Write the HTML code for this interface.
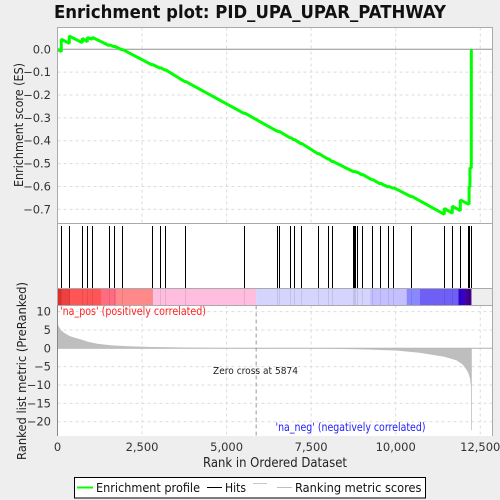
<!DOCTYPE html>
<html>
<head>
<meta charset="utf-8">
<style>
html,body{margin:0;padding:0;background:#eeeeee;width:500px;height:500px;overflow:hidden}
svg{display:block;font-family:"DejaVu Sans","Liberation Sans",sans-serif}
</style>
</head>
<body>
<svg id="chart" xmlns="http://www.w3.org/2000/svg" width="500" height="500" viewBox="0 0 500 500">
<rect x="0" y="0" width="500" height="500" fill="#eeeeee"/>
<text x="54" y="18" font-size="18" font-weight="bold" fill="#111" textLength="392" lengthAdjust="spacingAndGlyphs">Enrichment plot: PID_UPA_UPAR_PATHWAY</text>
<rect x="57.5" y="27.5" width="435" height="196" fill="#fff"/>
<rect x="57.5" y="223.5" width="435" height="65" fill="#fff"/>
<rect x="57.5" y="305.5" width="435" height="130.5" fill="#fff"/>
<g id="grid"></g>
<g id="metric"></g>
<g id="band"></g>
<g id="hits"></g>
<g id="profile"></g>
<g id="frames" fill="none" stroke="#aaaaaa" stroke-width="1">
<rect x="57.5" y="27.5" width="435" height="196"/>
<rect x="57.5" y="288.5" width="435" height="17"/>
<line x1="492.5" y1="223.5" x2="492.5" y2="288.5"/>
<line x1="492.5" y1="305.5" x2="492.5" y2="436"/>
<line x1="57.5" y1="223.5" x2="57.5" y2="288.5"/>
<line x1="57.5" y1="305.5" x2="57.5" y2="436" stroke="#888"/>
</g>
<g id="labels" font-size="11.5" fill="#333"></g>
<text transform="translate(23,125) rotate(-90)" text-anchor="middle" font-size="12.5" fill="#222" textLength="124" lengthAdjust="spacingAndGlyphs">Enrichment score (ES)</text>
<text transform="translate(26,371) rotate(-90)" text-anchor="middle" font-size="12.5" fill="#222" textLength="178" lengthAdjust="spacingAndGlyphs">Ranked list metric (PreRanked)</text>
<text x="275" y="467" text-anchor="middle" font-size="13" fill="#222" textLength="144" lengthAdjust="spacingAndGlyphs">Rank in Ordered Dataset</text>
<text x="60" y="315" font-size="11.5" fill="#ff2020" textLength="146" lengthAdjust="spacingAndGlyphs">'na_pos' (positively correlated)</text>
<text x="275.5" y="431" font-size="11.5" fill="#2020ff" textLength="150" lengthAdjust="spacingAndGlyphs">'na_neg' (negatively correlated)</text>
<text x="213" y="374" font-size="10" fill="#222" textLength="85" lengthAdjust="spacingAndGlyphs">Zero cross at 5874</text>
<g>
<rect x="74.5" y="477.5" width="351" height="20.5" fill="#fff" stroke="#000" stroke-width="1"/>
<line x1="77" y1="487.5" x2="93" y2="487.5" stroke="#00ff00" stroke-width="2"/>
<text x="96" y="492" font-size="12" fill="#111" textLength="104" lengthAdjust="spacingAndGlyphs">Enrichment profile</text>
<line x1="207" y1="487.5" x2="222" y2="487.5" stroke="#000" stroke-width="1"/>
<text x="225" y="492" font-size="12" fill="#111" textLength="21" lengthAdjust="spacingAndGlyphs">Hits</text>
<line x1="253" y1="483.5" x2="267" y2="483.5" stroke="#c8c8c8" stroke-width="1"/>
<line x1="277" y1="487.5" x2="292" y2="487.5" stroke="#bebebe" stroke-width="1"/>
<text x="295" y="492" font-size="12" fill="#111" textLength="126.5" lengthAdjust="spacingAndGlyphs">Ranking metric scores</text>
</g>
</svg>
<script>
const hitRanks = [112,349,733,881,1029,1532,1680,1916,2803,3040,3188,3779,5523,6499,6558,6883,7002,7209,7711,8007,8125,8746,8776,8805,8865,9012,9308,9545,9781,9929,10461,11437,11673,11910,12147,12170,12195,12235,12236];
const esBeforeHit = [-0.010,0.026,0.029,0.033,0.044,0.016,0.011,-0.003,-0.069,-0.083,-0.092,-0.143,-0.281,-0.359,-0.362,-0.388,-0.397,-0.414,-0.458,-0.481,-0.492,-0.535,-0.536,-0.537,-0.540,-0.550,-0.572,-0.589,-0.603,-0.608,-0.645,-0.722,-0.717,-0.706,-0.677,-0.678,-0.603,-0.520,-0.266];
const esAfterHit = [0.044,0.058,0.048,0.051,0.052,0.020,0.014,0.000,-0.066,-0.080,-0.089,-0.140,-0.278,-0.356,-0.359,-0.385,-0.394,-0.411,-0.455,-0.478,-0.489,-0.532,-0.533,-0.534,-0.537,-0.547,-0.569,-0.585,-0.599,-0.605,-0.642,-0.696,-0.686,-0.659,-0.676,-0.601,-0.518,-0.266,0.000];
const metricRanks = [0,40,100,200,350,500,700,900,1200,1600,2100,2800,4000,5000,5874,7000,8100,9000,10000,10700,11437,11800,11980,12098,12150,12197,12226,12228,12250];
const metricValues = [6.8,5.9,5.0,4.2,3.4,2.9,2.4,1.8,1.2,0.8,0.55,0.35,0.2,0.08,0,-0.05,-0.12,-0.28,-0.6,-1.2,-2.3,-3.3,-4.4,-5.9,-6.8,-8.2,-10.5,-22.3,-22.3];
const xTicks = [0,2500,5000,7500,10000,12500];
const xTickLabels = ['0','2,500','5,000','7,500','10,000','12,500'];
const esTicks = [0,-0.1,-0.2,-0.3,-0.4,-0.5,-0.6,-0.7];
const esTickLabels = ['0.0','\u22120.1','\u22120.2','\u22120.3','\u22120.4','\u22120.5','\u22120.6','\u22120.7'];
const metricTicks = [10,5,0,-5,-10,-15,-20];
const metricTickLabels = ['10','5','0','\u22125','\u221210','\u221215','\u221220'];
const zeroCross = 5874;
const bandStops = [0,124,370,1286,1750,2815,5874,9240,10325,10710,11851,12050,12235];
const bandColors = ['#e52a2a','#ee4040','#ff5555','#ff6b80','#ff8888','#ffbde0','#d4d4ff','#c4bfff','#8888ff','#6e5ff5','#3300cc','#440099'];

const NS = 'http://www.w3.org/2000/svg';
const xS = v => 57.5 + v * 0.03382;
const esY = v => 49.3 - v * 228.6;
const mY = v => 348.3 - v * 3.67;
function mk(parent, tag, props) {
  const el = document.createElementNS(NS, tag);
  for (const k in props) el.setAttribute(k, props[k]);
  parent.appendChild(el);
  return el;
}
const grid = document.getElementById('grid');
const GRIDCOL = '#dcdcdc';
xTicks.forEach(t => {
  if (t === 0) return;
  [[27.5,223.5],[305.5,436]].forEach(r => {
    const el = mk(grid, 'line', {x1:xS(t), x2:xS(t), y1:r[0], y2:r[1], stroke:GRIDCOL, 'stroke-dasharray':'3 3'});
    
    
  });
});
esTicks.forEach(t => {
  const el = mk(grid, 'line', {x1:57.5, x2:492.5, y1:esY(t), y2:esY(t), stroke:t===0?'#909090':GRIDCOL, 'stroke-dasharray':t===0?'none':'3 3'});
  
  
});
metricTicks.forEach(t => {
  const el = mk(grid, 'line', {x1:57.5, x2:492.5, y1:mY(t), y2:mY(t), stroke:t===0?'#b0b0b0':GRIDCOL, 'stroke-dasharray':t===0?'none':'3 3'});
  
  
});
const zeroLine = mk(grid, 'line', {x1:xS(zeroCross), x2:xS(zeroCross), y1:305.5, y2:436, stroke:'#999', 'stroke-dasharray':'4 3'});



const metricPts = metricRanks.map((r,i) => xS(r).toFixed(2)+','+mY(metricValues[i]).toFixed(2));
const lastRank = metricRanks[metricRanks.length-1];
const area = mk(document.getElementById('metric'), 'polygon', {
  points: xS(0)+','+mY(0)+' '+metricPts.join(' ')+' '+xS(lastRank)+','+mY(0),
  fill:'#bebebe', stroke:'none'
});



const band = document.getElementById('band');
bandColors.forEach((c,i) => {
  const el = mk(band, 'rect', {x:xS(bandStops[i]), y:288.5, width:xS(bandStops[i+1])-xS(bandStops[i]), height:17, fill:c});
  
  
});

const hitsG = document.getElementById('hits');
hitRanks.forEach(r => {
  const px = Math.round(xS(r)-0.5)+0.5;
  const el = mk(hitsG, 'line', {x1:px, x2:px, y1:226, y2:288.5, stroke:'#000', 'stroke-width':1});
  
  
  const tint = mk(hitsG, 'line', {x1:px, x2:px, y1:288.5, y2:305.5, stroke:'#000', 'stroke-opacity':0.09, 'stroke-width':1});
  
  
});

let pts = [xS(0)+','+esY(0)];
hitRanks.forEach((r,i) => {
  pts.push(xS(r).toFixed(2)+','+esY(esBeforeHit[i]).toFixed(2));
  pts.push(xS(r).toFixed(2)+','+esY(esAfterHit[i]).toFixed(2));
});
const line = mk(document.getElementById('profile'), 'polyline', {points:pts.join(' '), fill:'none', stroke:'#00ff00', 'stroke-width':3, 'stroke-linejoin':'bevel'});



const labels = document.getElementById('labels');
xTicks.forEach((t,i) => {
  const el = mk(labels, 'text', {x:xS(t), y:451, 'text-anchor':'middle'});
  el.textContent = xTickLabels[i];
  
  
});
esTicks.forEach((t,i) => {
  const el = mk(labels, 'text', {x:51, y:esY(t)+4, 'text-anchor':'end'});
  el.textContent = esTickLabels[i];
  
  
});
metricTicks.forEach((t,i) => {
  const el = mk(labels, 'text', {x:51, y:mY(t)+4, 'text-anchor':'end'});
  el.textContent = metricTickLabels[i];
  
  
});
</script>
</body>
</html>
